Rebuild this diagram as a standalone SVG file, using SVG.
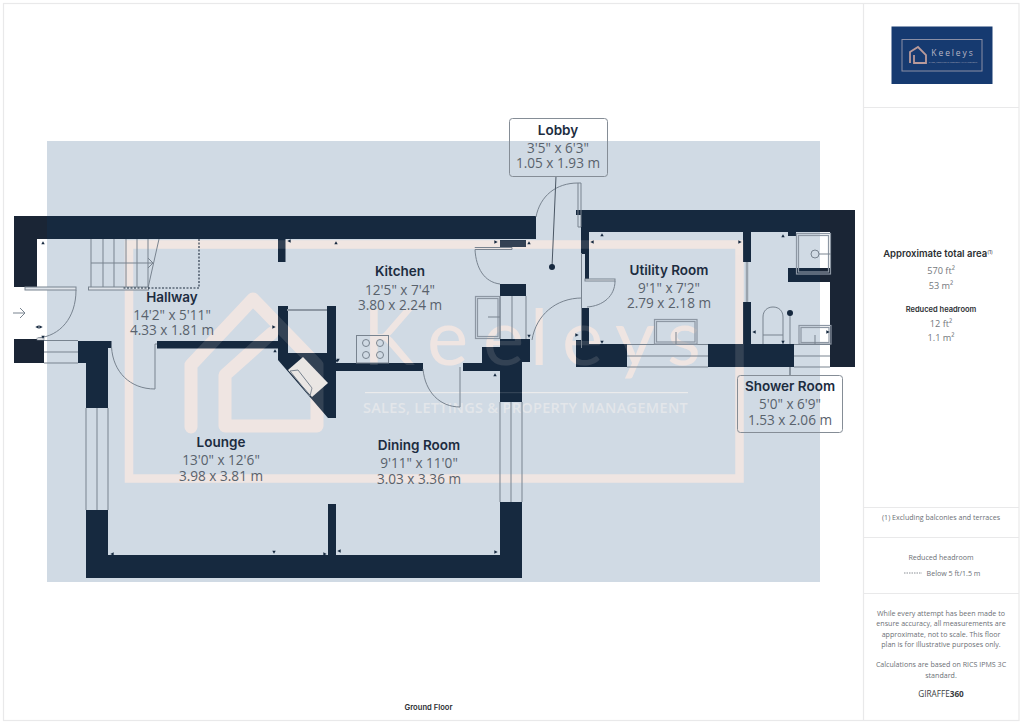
<svg xmlns="http://www.w3.org/2000/svg" xmlns:xlink="http://www.w3.org/1999/xlink" width="1024" height="724" viewBox="0 0 1024 724">
<style>
text{font-family:"Open Sans","Noto Sans","Liberation Sans",sans-serif;text-anchor:middle}
.w{fill:#16293f}
.o{fill:#1a2535}
.l{fill:none;stroke:#78838f;stroke-width:1}
.f{fill:none;stroke:#8d97a3;stroke-width:1.2}
.t{fill:#16293f}
.name{font-family:Inter,"Noto Sans",sans-serif;font-size:13.5px;font-weight:600;fill:#1c2c40}
.dim{font-size:13.6px;fill:#59626c}
.box{fill:none;stroke:#858d96;stroke-width:1}
.lead{fill:none;stroke:#4a5663;stroke-width:1}
.side{font-size:7.100px;fill:#6c7076}
.sv{font-size:9.200px;fill:#74787d}
.sb{font-family:Inter,"Noto Sans",sans-serif;font-weight:600;fill:#2c2f33}
.rule{stroke:#e9e9ea;stroke-width:1.2;fill:none}
</style>
<defs>
<g id="wm">
<rect x="129" y="244.500" width="610.500" height="234" fill="none" stroke="#f6e8e2" stroke-width="8.500"/>
<path d="M191 427V365L253 299L317 365V426H225V375L272 333" fill="none" stroke="#f6e8e2" stroke-width="13" stroke-linejoin="round" stroke-linecap="round"/>
<text x="363 427 483 530 562 615 667" y="365" style="font-family:Lato,'Noto Sans',sans-serif;font-size:78px;font-weight:400;text-anchor:start" fill="#f6e8e2">Keeleys</text>
<rect x="365" y="392" width="323" height="1.200" fill="#f2f0ef"/>
</g>
<path id="tu" d="M-1.700 1.300H1.700L0-1.700Z" class="t"/>
<path id="td" d="M-1.700-1.300H1.700L0 1.700Z" class="t"/>
<path id="tl" d="M1.700-1.700V1.700L-1.700 0Z" class="t"/>
<path id="tr" d="M-1.700-1.700V1.700L1.700 0Z" class="t"/>
</defs>
<rect width="1024" height="724" fill="#fff"/>
<g id="page">
<rect x="3.500" y="3.500" width="1015.500" height="717" class="rule"/>
<path d="M863.500 3.500V720.500M863.500 107.500H1019M863.500 507.500H1019M863.500 537.500H1019M863.500 593.500H1019" class="rule"/>
</g>
<rect id="footprint" x="47" y="141" width="773" height="441" fill="#d0dae4"/>
<use id="watermark" xlink:href="#wm" href="#wm" opacity=".8"/>
<text id="watermark-text" x="525.500" y="413" style="font-size:14.500px;font-weight:600;letter-spacing:.3px" fill="#e3e6ea">SALES, LETTINGS &amp; PROPERTY MANAGEMENT</text>
<g id="walls">
<path class="w" d="M14 216H536V239H37V287H14Z"/>
<rect class="w" x="278" y="239" width="7.500" height="23"/>
<rect class="w" x="14" y="339" width="30" height="24"/>
<path class="w" d="M78 341H111.500V348H108V408H86V363H78Z"/>
<rect class="w" x="157" y="341" width="121" height="7.500"/>
<path class="w" d="M278 306H288V353H327V306H336V418H328L278 360Z"/>
<rect class="w" x="336" y="363" width="87" height="8"/>
<rect class="w" x="463" y="363" width="37" height="8"/>
<path class="w" d="M500 339H530V362H522V402H500V371H482V347H500Z"/>
<rect class="w" x="500" y="240" width="26" height="7"/>
<rect class="w" x="500" y="284" width="26" height="12"/>
<path class="w" d="M86 510H108V555H500V502H522V578H86Z"/>
<rect class="w" x="328" y="504" width="8" height="51"/>
<path class="w" d="M576 210H855V367H830V282H788V268H830V232H751V262H743V232H589V279H585V254H581V215H576Z"/>
<path class="w" d="M582 308H589V344H627V367H576V340H582Z"/>
<path class="w" d="M743 302H751V344H794V367H708V344H743Z"/>
<rect class="w" x="788" y="232" width="8" height="4"/>
<rect class="o" x="14" y="216" width="33" height="23"/>
<rect class="o" x="14" y="239" width="23" height="48"/>
<rect class="o" x="14" y="339" width="30" height="24"/>
<rect class="o" x="820" y="210" width="35" height="22"/>
<path class="o" d="M820 232H855V367H830V282H820V268H830V232H820Z"/>
<path fill="#e9e6e4" d="M303 357L328 383L312 397L288 370Z"/>
<path class="l" d="M290 371L298 370L312 388L310 396Z"/>
</g>
<use id="watermark-over" xlink:href="#wm" href="#wm" opacity=".13"/>
<g id="fixtures">
<rect x="25" y="287" width="51" height="3" fill="#dfe4ea" stroke="#78838f"/>
<path class="l" d="M76 290C76 318 60 336 38 338"/>
<rect x="37" y="338" width="7" height="2" fill="#fff" stroke="#78838f" stroke-width=".6"/>
<path class="l" d="M44 340.500H78M44 352H78M44 363H78"/>
<path class="l" d="M13 313H25M20 308L25 313L20 318"/>
<path class="l" d="M91 239V288M103 239V288M114 239V288M126 239V288M137 239V288M148 239V288M91 263H152M148 258L153 263L148 268M159 239L148 288"/>
<rect x="88.500" y="287" width="60" height="3" fill="#dfe4ea" stroke="#78838f"/>
<path d="M199 239V288H123" fill="none" stroke="#1d2c3e" stroke-width="1.100" stroke-dasharray="2 1.500"/>
<path class="l" d="M111.500 347C113 372 130 389 155 389V344H157"/>
<path class="l" d="M86 408V510M97 408V510M108 408V510"/>
<path class="l" d="M500 402V502M511 402V502M522 402V502"/>
<path class="l" d="M423 369C425 392 440 407 460 407V367"/>
<path d="M287 310H327" stroke="#8d97a3" stroke-width="1.800"/>
<g id="hob"><rect x="356.500" y="335.500" width="32" height="27.500" class="l"/><circle cx="366" cy="343" r="3.500" class="l"/><circle cx="380" cy="343" r="3.500" class="l"/><circle cx="366" cy="355" r="3.500" class="l"/><circle cx="380" cy="355" r="3.500" class="l"/></g>
<path class="l" d="M475 248V247.500H512V249.500H475C476 268 484 282 500 284"/>
<rect x="475.500" y="296.500" width="24.500" height="42" class="f"/><rect x="477.500" y="298.500" width="20.500" height="38" class="f"/>
<path class="l" d="M488 317H500"/>
<path class="l" d="M500 296V339M512 296V339M526 296V339"/>
<path class="l" d="M536 217C540 196 556 183 578 183H581V227H578V183"/>
<path class="l" d="M532 340C536 315 556 298 582 298"/>
<path class="l" d="M581.500 253V348"/>
<rect x="585" y="279" width="30" height="2" fill="#dfe4ea" stroke="#78838f"/>
<path class="l" d="M615 281C615 296 603 306 587 307"/>
<path class="l" d="M627 344.500H708M627 356H708M627 367H708"/>
<rect x="654.500" y="319.500" width="42.500" height="24.500" class="f"/><rect x="656.500" y="321.500" width="38.500" height="20.500" class="f"/>
<path class="l" d="M676 332V344"/>
<path d="M747 262V302" stroke="#9aa3ad" stroke-width="2.500"/>
<rect x="796.500" y="233.500" width="34" height="40.500" class="f"/><rect x="798.500" y="235.500" width="30" height="36.500" class="f"/>
<circle cx="815" cy="254" r="4" class="l"/><path class="l" d="M819 254H831"/>
<path class="l" d="M763 344V317C763 311 767 307 773 307S783 311 783 317V344M763 335H783"/>
<path class="l" d="M790 313V344"/>
<circle cx="790" cy="313" r="3" fill="#16293f"/>
<rect x="799" y="325.500" width="32" height="18.500" class="f"/><rect x="801" y="327.500" width="28" height="15" class="f"/>
<path class="l" d="M815 335V344"/>
<path class="l" d="M794 344.500H830M794 356H830M794 367H830"/>
</g>
<g id="ticks">
<use href="#tu" x="43" y="243"/><use href="#tl" x="37" y="327"/><use href="#tr" x="41" y="327"/><use href="#td" x="43" y="337"/>
<use href="#tl" x="289" y="241"/><use href="#tu" x="336" y="243"/><use href="#tr" x="274" y="327"/><use href="#tu" x="275" y="351"/><use href="#td" x="337" y="361"/><use href="#td" x="338" y="360"/>
<use href="#tr" x="496" y="242"/><use href="#tu" x="529" y="243"/><use href="#tu" x="495" y="375"/><use href="#td" x="529" y="336"/>
<use href="#tu" x="602" y="235"/><use href="#tl" x="592" y="242"/><use href="#tr" x="740" y="242"/><use href="#tu" x="783" y="236"/><use href="#td" x="602" y="342"/><use href="#tl" x="754" y="332"/><use href="#td" x="783" y="342"/><use href="#tr" x="828" y="332"/><use href="#tr" x="577" y="335"/>
<use href="#tl" x="112" y="554"/><use href="#td" x="274" y="552"/><use href="#tr" x="325" y="554"/><use href="#tl" x="339" y="551"/><use href="#tr" x="496" y="552"/>
</g>
<g id="connectors">
<path class="lead" d="M556 176L552 267"/>
<circle cx="552" cy="267" r="3" fill="#16293f"/>
<path class="lead" d="M790 367V375"/>
</g>
<g id="node-hallway"><text class="name" x="172" y="302">Hallway</text><text class="dim" x="172" y="320">14'2" x 5'11"</text><text class="dim" x="172" y="335">4.33 x 1.81 m</text></g>
<g id="node-kitchen"><text class="name" x="400" y="276">Kitchen</text><text class="dim" x="400" y="295">12'5" x 7'4"</text><text class="dim" x="400" y="310">3.80 x 2.24 m</text></g>
<g id="node-lobby"><rect class="box" x="509.500" y="118.500" width="98" height="58" rx="3"/><text class="name" x="558" y="135">Lobby</text><text class="dim" x="558" y="153">3'5" x 6'3"</text><text class="dim" x="558" y="168">1.05 x 1.93 m</text></g>
<g id="node-utility"><text class="name" x="669" y="275">Utility Room</text><text class="dim" x="669" y="293">9'1" x 7'2"</text><text class="dim" x="669" y="308">2.79 x 2.18 m</text></g>
<g id="node-shower"><rect class="box" x="737.500" y="375.500" width="105" height="57" rx="3"/><text class="name" x="790" y="391">Shower Room</text><text class="dim" x="790" y="409">5'0" x 6'9"</text><text class="dim" x="790" y="425">1.53 x 2.06 m</text></g>
<g id="node-lounge"><text class="name" x="221" y="447">Lounge</text><text class="dim" x="221" y="465">13'0" x 12'6"</text><text class="dim" x="221" y="481">3.98 x 3.81 m</text></g>
<g id="node-dining"><text class="name" x="419" y="450">Dining Room</text><text class="dim" x="419" y="468">9'11" x 11'0"</text><text class="dim" x="419" y="484">3.03 x 3.36 m</text></g>
<text id="floor-label" class="sb" x="428.500" y="710" style="font-size:7.600px">Ground Floor</text>
<g id="logo">
<rect x="891.500" y="26.500" width="101" height="57.500" fill="#163a70"/>
<rect x="902" y="39.500" width="80" height="31.500" fill="none" stroke="#8b8fa5" stroke-width="1"/>
<path d="M910 63V52L918 47L926 55V63H914V55" fill="none" stroke="#b99a9a" stroke-width="1.800"/>
<text x="953" y="56" style="font-size:8.500px;letter-spacing:1.900px" fill="#b8b6c4">Keeleys</text>
<text x="953" y="62.500" style="font-size:2.300px" fill="#a8a6b8">SALES, LETTINGS &amp; PROPERTY MANAGEMENT</text>
</g>
<g id="summary">
<text class="sb" x="938" y="257" style="font-size:9.500px">Approximate total area<tspan dy="-3.500" style="font-size:5px;font-weight:400">(1)</tspan></text>
<text class="sv" x="941" y="274">570 ft²</text>
<text class="sv" x="941" y="289">53 m²</text>
<text class="sb" x="941" y="312" style="font-size:7.500px">Reduced headroom</text>
<text class="sv" x="941" y="327">12 ft²</text>
<text class="sv" x="941" y="341">1.1 m²</text>
<text class="side" x="941" y="520">(1) Excluding balconies and terraces</text>
<text class="side" x="941" y="560">Reduced headroom</text>
<path d="M904 573H922" stroke="#8a8f95" stroke-width="1" stroke-dasharray="1.500 1"/>
<text class="side" x="953.500" y="576">Below 5 ft/1.5 m</text>
<text class="side" x="941" y="616">While every attempt has been made to</text>
<text class="side" x="941" y="626">ensure accuracy, all measurements are</text>
<text class="side" x="941" y="636.500">approximate, not to scale. This floor</text>
<text class="side" x="941" y="647">plan is for illustrative purposes only.</text>
<text class="side" x="941" y="667">Calculations are based on RICS IPMS 3C</text>
<text class="side" x="941" y="677.500">standard.</text>
<text x="941" y="697" style="font-size:8.200px" fill="#3a3d42">GIRAFFE<tspan font-weight="700">360</tspan></text>
</g>
</svg>
